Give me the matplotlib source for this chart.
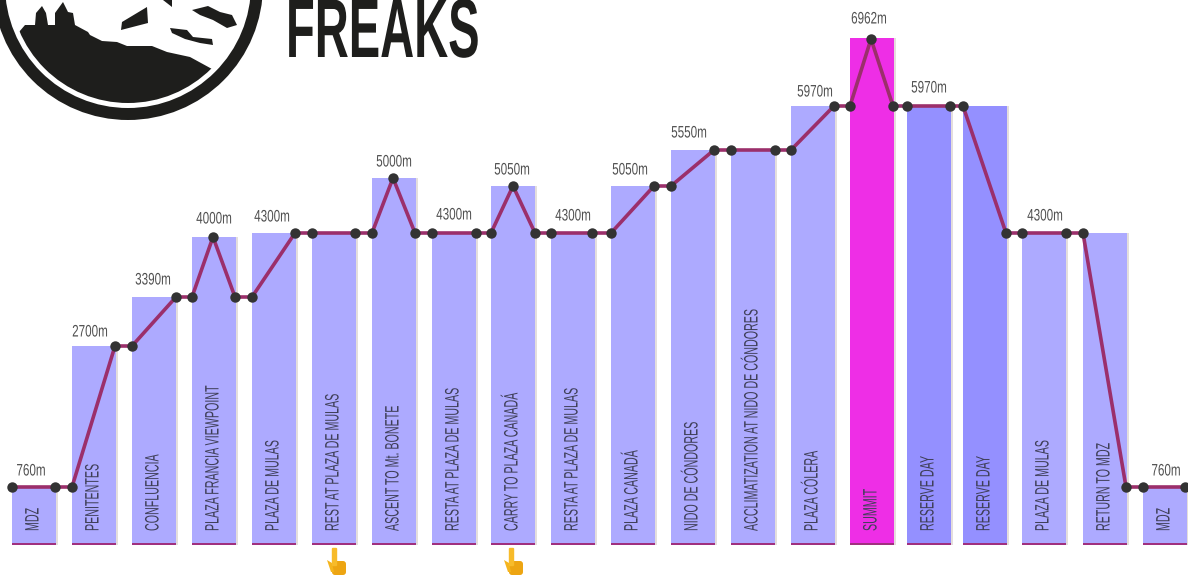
import matplotlib
matplotlib.use('Agg')
import matplotlib.pyplot as plt
from matplotlib.patches import Circle, Polygon, Rectangle, FancyBboxPatch
from matplotlib.patheffects import AbstractPathEffect
from matplotlib.transforms import Affine2D

# etapas
labels = ['MDZ', 'PENITENTES', 'CONFLUENCIA', 'PLAZA FRANCIA VIEWPOINT', 'PLAZA DE MULAS',
          'REST AT PLAZA DE MULAS', 'ASCENT TO Mt. BONETE', 'RESTA AT PLAZA DE MULAS',
          'CARRY TO PLAZA CANADÁ', 'RESTA AT PLAZA DE MULAS', 'PLAZA CANADÁ', 'NIDO DE CÓNDORES',
          'ACCLIMATIZATION AT NIDO DE CÓNDORES', 'PLAZA CÓLERA', 'SUMMIT', 'RESERVE DAY',
          'RESERVE DAY', 'PLAZA DE MULAS', 'RETURN TO MDZ', 'MDZ']
bar_left = [12, 72, 132, 192, 252, 312, 372, 432, 491, 551, 611, 671, 731, 791, 850, 907, 963, 1022, 1083, 1143]
bar_height = [58, 199, 248, 308, 312, 312, 367, 312, 359, 312, 359, 395, 395, 439, 507, 439, 439, 312, 312, 58]
bar_color = ['#adaaff'] * 14 + ['#ee2ee6', '#9490ff', '#9490ff'] + ['#adaaff'] * 3

# perfil de altitud
line_x = [12, 55, 72, 115, 132, 176, 192, 213, 235, 252, 295, 312, 355, 372, 393, 415, 432, 476, 491, 513,
          535, 551, 592, 611, 654, 671, 714, 731, 775, 791, 834, 850, 871, 893, 907, 950, 963, 1006, 1022,
          1066, 1083, 1126, 1143, 1185]
line_h = [58, 58, 58, 199, 199, 248, 248, 308, 248, 248, 312, 312, 312, 312, 367, 312, 312, 312, 312, 359,
          312, 312, 312, 312, 359, 359, 395, 395, 395, 395, 439, 439, 506, 439, 439, 439, 439, 312, 312,
          312, 312, 58, 58, 58]

# etiquetas de altura
alt_text = ['760m', '2700m', '3390m', '4000m', '4300m', '5000m', '4300m', '5050m', '4300m', '5050m',
            '5550m', '5970m', '6962m', '5970m', '4300m', '760m']
alt_x = [31, 90, 153, 214, 272, 394, 454, 512, 573, 630, 689, 815, 869, 929, 1045, 1166]
alt_h = [74, 213, 265, 326, 328, 383, 330, 375, 329, 375, 412, 453, 526, 457, 329, 74]

pointer_x = [334, 511]


# la fuente del original es condensada y aqui no hay ninguna: se aprieta el texto al dibujarlo
class Apretar(AbstractPathEffect):
    def __init__(self, x0, y0, sx=1.0, sy=1.0):
        super().__init__()
        self.squeeze = Affine2D().translate(-x0, -y0).scale(sx, sy).translate(x0, y0)

    def draw_path(self, renderer, gc, tpath, affine, rgbFace=None):
        renderer.draw_path(gc, tpath, affine + self.squeeze, rgbFace)


fig = plt.figure(figsize=(11.88, 5.76), dpi=100)
ax = fig.add_axes([0, 0, 1, 1])
ax.set_xlim(0, 1188)
ax.set_ylim(-31, 545)
ax.axis('off')

font = ['Liberation Sans', 'DejaVu Sans']

for i in range(len(labels)):
    # sombra suave
    ax.add_patch(Rectangle((bar_left[i] + 1, 0), 45, bar_height[i], color='#e4dedc', lw=0, zorder=1))
    ax.add_patch(Rectangle((bar_left[i], 0), 44, bar_height[i], color=bar_color[i], lw=0, zorder=2))
    ax.add_patch(Rectangle((bar_left[i], 0), 44, 2.5, color='#a0307f', lw=0, zorder=3))
    t = ax.text(bar_left[i] + 22, 14, labels[i], rotation=90, ha='center', va='bottom',
                fontsize=14, color='#3f3f58', family=font, zorder=3)
    t.set_path_effects([Apretar(0, 14 + 31, sy=0.55)])

ax.plot(line_x, line_h, color='#9b2f6b', lw=2.6, zorder=4)
ax.plot(line_x, line_h, 'o', color='#333333', ms=7.5, mew=0, zorder=5)

for i in range(len(alt_text)):
    t = ax.text(alt_x[i], alt_h[i], alt_text[i], ha='center', va='center', fontsize=12,
                color='#505050', family=font)
    t.set_path_effects([Apretar(alt_x[i], 0, sx=0.7)])

# logo y manos en pixeles
top = fig.add_axes([0, 0, 1, 1])
top.set_xlim(0, 1188)
top.set_ylim(576, 0)
top.axis('off')
top.patch.set_alpha(0)

logo = '#1e1e1c'
top.add_patch(Circle((128, -15), 135, color=logo, lw=0))
top.add_patch(Circle((128, -15), 123, color='white', lw=0))
inner = Circle((128, -15), 118, transform=top.transData)
ridge = [(19, 32), (25, 25), (35, 25), (36, 13), (42, 6), (46, 13), (48, 25), (55, 25), (55, 13), (63, 2),
         (68, 12), (73, 13), (75, 25), (88, 32), (90, 35), (102, 41), (117, 42), (127, 46), (152, 46),
         (167, 52), (190, 57), (212, 69), (212, 120), (19, 120)]
p = Polygon(ridge, color=logo, lw=0)
top.add_patch(p)
p.set_clip_path(inner)
snow = [[(121, 30), (122, 22), (147, 7), (148, 23)],
        [(192, 10), (208, 6), (220, 12), (232, 15), (237, 25), (227, 28), (213, 20), (200, 15)],
        [(170, 28), (187, 30), (193, 37), (212, 39), (213, 45), (200, 43), (185, 39), (172, 33)],
        [(163, 0), (172, 0), (172, 7)]]
for s in snow:
    top.add_patch(Polygon(s, color=logo, lw=0))
t = top.text(286, 57, 'FREAKS', fontsize=60, fontweight='bold', color=logo, family=font, ha='left', va='baseline')
t.set_path_effects([Apretar(286, 0, sx=0.565)])

for x in pointer_x:
    # puño y dedo
    top.add_patch(FancyBboxPatch((x + 1, 564), 8, 8, boxstyle='round,pad=3', color='#eda512', lw=0))
    top.add_patch(Polygon([(x - 7, 560), (x - 2, 563), (x, 572), (x - 3, 572)], color='#f5b51e', lw=0))
    top.add_patch(FancyBboxPatch((x - 1, 549), 3, 16, boxstyle='round,pad=1.2', color='#f7bb2a', lw=0))

fig.savefig('out.png', dpi=100)
